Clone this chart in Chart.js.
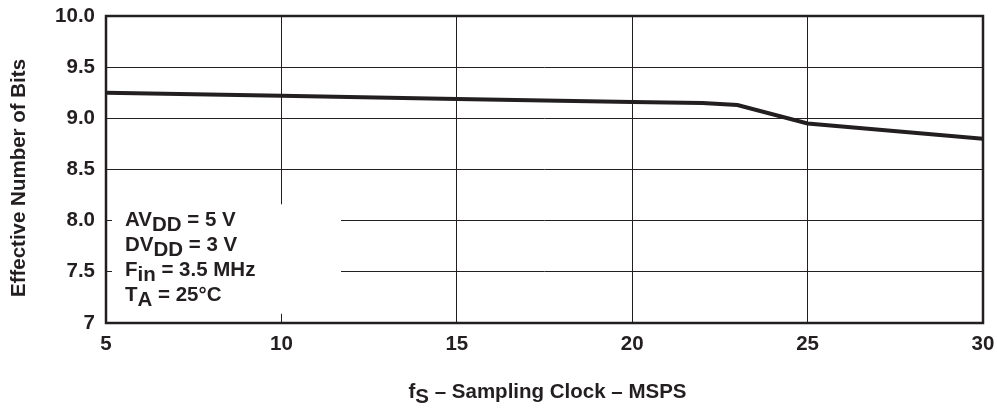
<!DOCTYPE html>
<html>
<head>
<meta charset="utf-8">
<script src="https://cdn.jsdelivr.net/npm/chart.js@4.4.0/dist/chart.umd.min.js"></script>
<style>
  body { margin: 0; background: #fff; }
  canvas { display: block; }
</style>
</head>
<body>
<canvas id="enob" width="997" height="408"></canvas>
<script>
// sampling clock (MSPS) and effective number of bits
const clockMsps = [5, 10, 15, 20, 22, 23, 25, 30];
const enobBits = [9.25, 9.22, 9.19, 9.16, 9.15, 9.13, 8.95, 8.80];

const xTicks = [5, 10, 15, 20, 25, 30];
const yTickLabels = ['7', '7.5', '8.0', '8.5', '9.0', '9.5', '10.0'];

// conditions box text, [text, subscript] parts per line
const conditionLines = [
    [['AV', false], ['DD', true], [' = 5 V', false]],
    [['DV', false], ['DD', true], [' = 3 V', false]],
    [['F', false], ['in', true], [' = 3.5 MHz', false]],
    [['T', false], ['A', true], [' = 25\u00B0C', false]]
];
const xTitle = [['f', false], ['S', true], [' \u2013 Sampling Clock \u2013 MSPS', false]];
const yTitle = 'Effective Number of Bits';

const ink = '#231f20';
const family = '"Liberation Sans", Arial, sans-serif';
const font = 'bold 20.5px ' + family;

function richWidth(ctx, parts) {
    let w = 0;
    parts.forEach(p => { w += ctx.measureText(p[0]).width; });
    return w;
}

function drawRich(ctx, parts, x, y) {
    parts.forEach(p => {
        ctx.fillText(p[0], x, p[1] ? y + 5 : y);
        x += ctx.measureText(p[0]).width;
    });
}

const extras = {
    id: 'extras',
    beforeDatasetsDraw(chart) {
        const ctx = chart.ctx;
        const xs = chart.scales.x, ys = chart.scales.y;
        // white box behind the conditions text
        const left = xs.getPixelForValue(5.17), right = xs.getPixelForValue(11.7);
        const top = ys.getPixelForValue(8.16), bottom = ys.getPixelForValue(7.09);
        ctx.save();
        ctx.fillStyle = '#fff';
        ctx.fillRect(left, top, right - left, bottom - top);
        ctx.font = font;
        ctx.fillStyle = ink;
        ctx.textBaseline = 'alphabetic';
        conditionLines.forEach((line, i) => {
            drawRich(ctx, line, 125, 226 + i * 25);
        });
        ctx.restore();
    },
    afterDraw(chart) {
        const ctx = chart.ctx;
        const a = chart.chartArea;
        ctx.save();
        ctx.strokeStyle = ink;
        ctx.lineWidth = 2.5;
        ctx.strokeRect(a.left, a.top, a.right - a.left, a.bottom - a.top);

        ctx.font = font;
        ctx.fillStyle = ink;
        ctx.textBaseline = 'alphabetic';
        const w = richWidth(ctx, xTitle);
        drawRich(ctx, xTitle, (a.left + a.right) / 2 + 3 - w / 2, 398);

        ctx.translate(19, 178);
        ctx.rotate(-Math.PI / 2);
        ctx.textAlign = 'center';
        ctx.textBaseline = 'middle';
        ctx.fillText(yTitle, 0, 0);
        ctx.restore();
    }
};

new Chart(document.getElementById('enob'), {
    type: 'line',
    data: {
        datasets: [
            {
                data: clockMsps.map((x, i) => ({x: x, y: enobBits[i]})),
                borderColor: ink,
                borderWidth: 4,
                pointRadius: 0,
                tension: 0,
                fill: false
            }
        ]
    },
    options: {
        responsive: false,
        animation: false,
        layout: {
            padding: {left: 0, right: 14, top: 16, bottom: 0}
        },
        plugins: {
            legend: {display: false},
            tooltip: {enabled: false}
        },
        scales: {
            x: {
                type: 'linear',
                min: 5,
                max: 30,
                afterBuildTicks: scale => {
                    scale.ticks = xTicks.map(v => ({value: v}));
                },
                afterFit: scale => {
                    scale.height = 85;
                    scale.paddingLeft = 0;
                    scale.paddingRight = 0;
                },
                ticks: {
                    color: ink,
                    font: {family: family, size: 20.5, weight: 'bold'},
                    padding: 9,
                    maxRotation: 0
                },
                grid: {color: ink, lineWidth: 1, drawTicks: false},
                border: {display: false}
            },
            y: {
                type: 'linear',
                min: 7,
                max: 10,
                ticks: {
                    stepSize: 0.5,
                    color: ink,
                    font: {family: family, size: 20.5, weight: 'bold'},
                    padding: 11,
                    callback: (value, index) => yTickLabels[index]
                },
                afterFit: scale => {
                    scale.width = 106;
                    scale.paddingTop = 0;
                    scale.paddingBottom = 0;
                },
                grid: {color: ink, lineWidth: 1, drawTicks: false},
                border: {display: false}
            }
        }
    },
    plugins: [extras]
});
</script>
</body>
</html>
